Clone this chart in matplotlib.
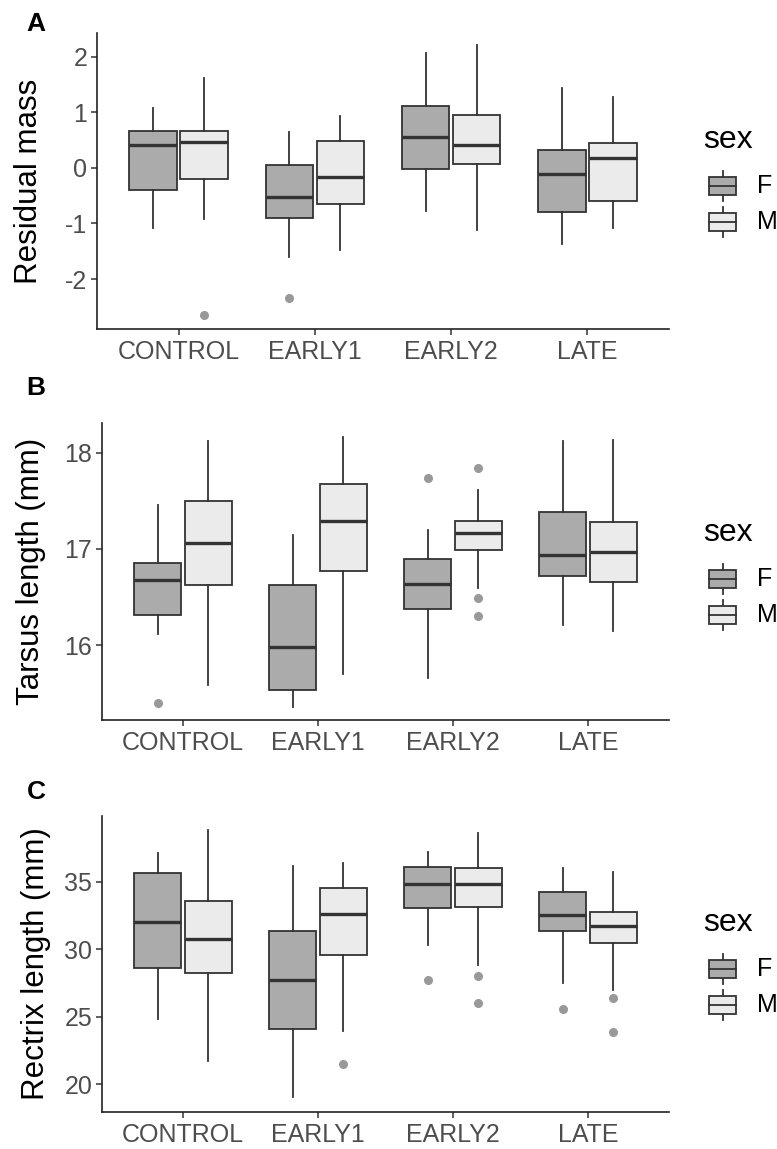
import matplotlib.pyplot as plt

plt.rcParams["font.family"] = ["Liberation Sans", "DejaVu Sans"]
plt.rcParams["axes.unicode_minus"] = False

groups = ["CONTROL", "EARLY1", "EARLY2", "LATE"]

# each box: [whisker low, Q1, median, Q3, whisker high]
mass_f = [[-1.09, -0.40, 0.41, 0.67, 1.08],
          [-1.60, -0.91, -0.52, 0.05, 0.65],
          [-0.77, -0.01, 0.55, 1.12, 2.07],
          [-1.37, -0.79, -0.10, 0.33, 1.44]]
mass_m = [[-0.92, -0.20, 0.46, 0.67, 1.62],
          [-1.48, -0.65, -0.16, 0.48, 0.94],
          [-1.11, 0.08, 0.41, 0.95, 2.21],
          [-1.09, -0.60, 0.18, 0.45, 1.27]]
mass_f_out = [[], [-2.34], [], []]
mass_m_out = [[-2.65], [], [], []]

tarsus_f = [[16.11, 16.31, 16.68, 16.85, 17.46],
            [15.36, 15.53, 15.98, 16.62, 17.14],
            [15.66, 16.37, 16.63, 16.90, 17.20],
            [16.21, 16.72, 16.94, 17.38, 18.12]]
tarsus_m = [[15.58, 16.62, 17.06, 17.50, 18.12],
            [15.70, 16.77, 17.29, 17.68, 18.16],
            [16.59, 16.99, 17.17, 17.29, 17.61],
            [16.15, 16.66, 16.97, 17.28, 18.13]]
tarsus_f_out = [[15.40], [], [17.74], []]
tarsus_m_out = [[], [], [17.84, 16.49, 16.30], []]

rectrix_f = [[24.85, 28.57, 32.02, 35.66, 37.10],
             [19.03, 24.09, 27.73, 31.35, 36.18],
             [30.32, 33.03, 34.80, 36.11, 37.21],
             [27.53, 31.37, 32.49, 34.26, 36.03]]
rectrix_m = [[21.69, 28.27, 30.74, 33.57, 38.82],
             [23.91, 29.53, 32.61, 34.51, 36.35],
             [28.79, 33.13, 34.80, 35.99, 38.62],
             [26.94, 30.44, 31.70, 32.76, 35.69]]
rectrix_f_out = [[], [], [27.68], [25.59]]
rectrix_m_out = [[], [21.52], [28.03, 26.05], [26.40, 23.84]]

W, H = 777, 1149
fig = plt.figure(figsize=(W / 100, H / 100), dpi=100)

fill_f = "#ababab"
fill_m = "#ebebeb"
edge = "#333333"


def px_axes(l, t, r, b):
    return fig.add_axes([l / W, 1 - b / H, (r - l) / W, (b - t) / H])


def make_stats(boxes, outliers):
    out = []
    for b, o in zip(boxes, outliers):
        out.append(dict(whislo=b[0], q1=b[1], med=b[2], q3=b[3], whishi=b[4], fliers=o))
    return out


panels = [
    dict(letter="A", ylabel="Residual mass", f=mass_f, m=mass_m, fo=mass_f_out, mo=mass_m_out,
         ticks=[-2, -1, 0, 1, 2], ylim=(-2.90, 2.43), box=(97, 33, 669, 329),
         letter_y=24, ylab_x=29, leg_y=140),
    dict(letter="B", ylabel="Tarsus length (mm)", f=tarsus_f, m=tarsus_m, fo=tarsus_f_out, mo=tarsus_m_out,
         ticks=[16, 17, 18], ylim=(15.22, 18.31), box=(102, 423, 669, 720),
         letter_y=388, ylab_x=31, leg_y=533),
    dict(letter="C", ylabel="Rectrix length (mm)", f=rectrix_f, m=rectrix_m, fo=rectrix_f_out, mo=rectrix_m_out,
         ticks=[20, 25, 30, 35], ylim=(17.95, 39.85), box=(102, 816, 669, 1112),
         letter_y=792, ylab_x=36, leg_y=923),
]

pos = list(range(1, len(groups) + 1))

for p in panels:
    l, t, r, b = p["box"]
    ax = px_axes(l, t, r, b)
    for data, outl, fill, off in [(p["f"], p["fo"], fill_f, -0.1875), (p["m"], p["mo"], fill_m, 0.1875)]:
        ax.bxp(make_stats(data, outl), positions=[x + off for x in pos], widths=0.35,
               patch_artist=True, showcaps=False, manage_ticks=False,
               boxprops=dict(facecolor=fill, edgecolor=edge, linewidth=1.3),
               whiskerprops=dict(color=edge, linewidth=1.3),
               medianprops=dict(color=edge, linewidth=2.4, solid_capstyle="butt"),
               flierprops=dict(marker="o", markerfacecolor="#999999", markeredgecolor="#999999",
                               markersize=5.5))
    ax.set_xlim(0.4, 4.6)
    ax.set_ylim(*p["ylim"])
    ax.set_xticks(pos)
    ax.set_xticklabels(groups)
    ax.set_yticks(p["ticks"])
    ax.tick_params(colors="#333333", labelcolor="#4d4d4d", labelsize=18, length=4, width=1.1, pad=3)
    ax.tick_params(axis="x", pad=4)
    for s in ["top", "right"]:
        ax.spines[s].set_visible(False)
    for s in ["left", "bottom"]:
        ax.spines[s].set_linewidth(1.2)
        ax.spines[s].set_color("#222222")
    ax.set_ylabel(p["ylabel"], fontsize=22.5, color="black", va="center")
    ax.yaxis.set_label_coords((p["ylab_x"] - l) / (r - l), 0.5)

    fig.text(36 / W, 1 - p["letter_y"] / H, p["letter"], fontsize=19, fontweight="bold",
             ha="center", va="center")

    # legend
    fig.text(703 / W, 1 - p["leg_y"] / H, "sex", fontsize=23, ha="left", va="center")
    for i, (lab, fill) in enumerate([("F", fill_f), ("M", fill_m)]):
        cy = p["leg_y"] + 46 + 36 * i
        lax = px_axes(703, cy - 18, 742, cy + 18)
        lax.set_xlim(0, 39)
        lax.set_ylim(36, 0)
        lax.axis("off")
        lax.plot([19.5, 19.5], [3, 33], color=edge, lw=1.3, zorder=1)
        lax.add_patch(plt.Rectangle((6, 9), 27, 18, facecolor=fill, edgecolor=edge, lw=1.3, zorder=2))
        lax.plot([6, 33], [18, 18], color=edge, lw=1.3, zorder=3)
        fig.text(757 / W, 1 - cy / H, lab, fontsize=18, color="black", ha="left", va="center")

fig.savefig("out.png", dpi=100)
